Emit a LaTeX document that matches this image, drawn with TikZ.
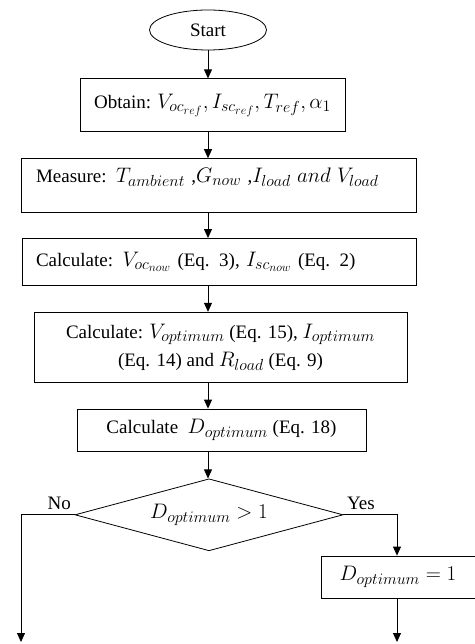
\documentclass[tikz,border=0pt]{standalone}
\usepackage{fix-cm}
\usepackage{fontspec}
\setmainfont{Liberation Serif}
\DeclareMathSizes{19}{21}{16}{12}
\usetikzlibrary{arrows.meta, positioning, shapes.geometric}

\begin{document}
\begin{tikzpicture}[
  x=1pt, y=-1pt,
  font=\fontsize{19}{22}\selectfont,
  term/.style={ellipse, draw, minimum width=117pt, minimum height=40pt, inner sep=0pt},
  block/.style={rectangle, draw, align=center, inner sep=0pt},
  leftblock/.style={rectangle, draw, align=left, inner ysep=0pt},
  decision/.style={diamond, draw, aspect=3.7, inner sep=0pt, minimum width=268pt, minimum height=72pt},
  flow/.style={-{Triangle[length=9pt, width=8pt]}, line width=0.8pt},
  every node/.append style={line width=0.8pt}
]
\useasboundingbox (0,0) rectangle (474,644);

\node[term] (start) at (208,30) {Start};
\node[block, below=28pt of start, xshift=4.5pt, minimum width=265pt, minimum height=53pt] (obtain)
  {Obtain: $V_{oc_{ref}}, I_{sc_{ref}}, T_{ref}, \alpha_1$};
\node[leftblock, below=26pt of obtain, xshift=6pt, text width=365pt, inner xsep=15pt,
  minimum height=54pt, text depth=21pt] (measure)
  {Measure: $T_{ambient}$ ,$G_{now}$ ,$I_{load}\ and\ V_{load}$};
\node[leftblock, below=25pt of measure, xshift=0.5pt, text width=366pt, inner xsep=14pt,
  minimum height=47pt] (calcnow)
  {Calculate: $V_{oc_{now}}$ (Eq. 3), $I_{sc_{now}}$ (Eq. 2)};
\node[block, below=26pt of calcnow, xshift=1.5pt, minimum width=373pt, minimum height=70pt,
  font=\fontsize{19}{28}\selectfont] (calcopt)
  {Calculate: $V_{optimum}$ (Eq. 15), $I_{optimum}$\\(Eq. 14) and $R_{load}$ (Eq. 9)};
\node[block, below=26pt of calcopt, xshift=1pt, minimum width=289pt, minimum height=42pt] (calcduty)
  {Calculate\ \ $D_{optimum}$ (Eq. 18)};
\node[decision, below=27pt of calcduty, xshift=-12.5pt] (decide) {$D_{optimum} > 1$};
\node[block, minimum width=154pt, minimum height=42pt] (setone) at (398,577) {$D_{optimum} = 1$};

\node[above left=1.5pt and 0pt of decide.west] (nolabel) {No};
\node[above right=1.5pt and 0pt of decide.east] (yeslabel) {Yes};

\coordinate (noend) at (21,642);
\coordinate (yesend) at (397,642);

\draw[flow] (start) -- (start |- obtain.north);
\draw[flow] (start |- obtain.south) -- (start |- measure.north);
\draw[flow] (start |- measure.south) -- (start |- calcnow.north);
\draw[flow] (start |- calcnow.south) -- (start |- calcopt.north);
\draw[flow] (start |- calcopt.south) -- (start |- calcduty.north);
\draw[flow] (start |- calcduty.south) -- (start |- decide.north);
\draw[flow] (decide.west) -| (noend);
\draw[flow] (decide.east) -| (yesend |- setone.north);
\draw[flow] (yesend |- setone.south) -- (yesend);
\end{tikzpicture}
\end{document}
